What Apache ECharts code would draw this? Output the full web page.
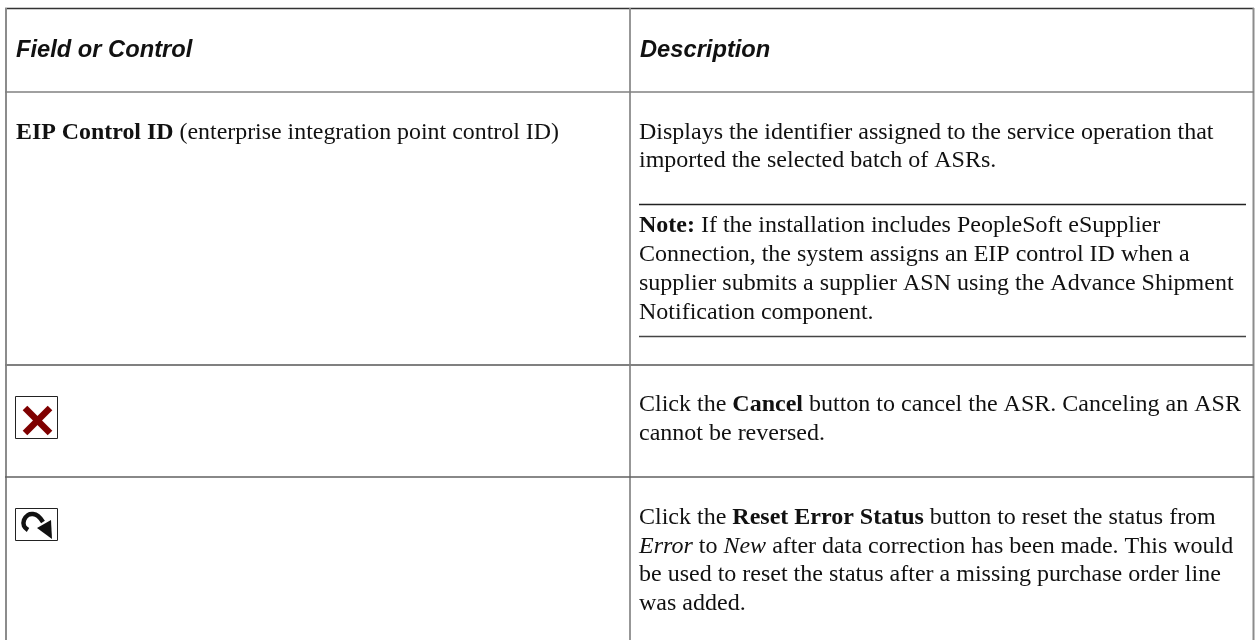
<!DOCTYPE html>
<html><head><meta charset="utf-8">
<style>html,body{margin:0;padding:0;background:#fff}#c{width:1256px;height:640px}</style>
<script src="https://cdn.jsdelivr.net/npm/echarts@6/dist/echarts.min.js"></script></head>
<body><div id="c"></div><script>
const headers = ["Field or Control", "Description"];
const fieldRuns = [["EIP Control ID","b"],[" (enterprise integration point control ID)","r"]];
const descLines = [
 {y:133,runs:[["Displays the identifier assigned to the service operation that","r"]]},
 {y:161,runs:[["imported the selected batch of ASRs.","r"]]},
 {y:226,runs:[["Note:","b"],[" If the installation includes PeopleSoft eSupplier","r"]]},
 {y:255,runs:[["Connection, the system assigns an EIP control ID when a","r"]]},
 {y:284,runs:[["supplier submits a supplier ASN using the Advance Shipment","r"]]},
 {y:313,runs:[["Notification component.","r"]]},
 {y:405,runs:[["Click the ","r"],["Cancel","b"],[" button to cancel the ASR. Canceling an ASR","r"]]},
 {y:434,runs:[["cannot be reversed.","r"]]},
 {y:518,runs:[["Click the ","r"],["Reset Error Status","b"],[" button to reset the status from","r"]]},
 {y:547,runs:[["Error","i"],[" to ","r"],["New","i"],[" after data correction has been made. This would","r"]]},
 {y:575,runs:[["be used to reset the status after a missing purchase order line","r"]]},
 {y:604,runs:[["was added.","r"]]}
];
const FS = 24, FSL = 23.9, FSH = 23.7;
const serif = '"Liberation Serif"';
const cv = document.createElement('canvas').getContext('2d');
function widthOf(t,k,fs){cv.font=(k==='i'?'italic ':'')+(k==='b'?'bold ':'')+fs+'px '+serif;return cv.measureText(t).width;}
function line(x,y,runs,fs){
  let out=[],cx=x;
  runs.forEach(([t,k])=>{
    out.push({type:'text',x:cx,y:y,style:{text:t,verticalAlign:'middle',fontFamily:serif,fontSize:fs,fill:'#111',
      fontWeight:k==='b'?'bold':'normal',fontStyle:k==='i'?'italic':'normal'}});
    cx+=widthOf(t,k,fs);
  });
  return out;
}
const rule=(x1,y1,x2,y2,c,w)=>({type:'line',shape:{x1,y1,x2,y2},style:{stroke:c,lineWidth:w}});
const els=[];
els.push(rule(5,8.5,1254,8.5,'#333',1.4));
els.push(rule(6,8,6,640,'#8c8c8c',2));
els.push(rule(630,8,630,640,'#8c8c8c',1.8));
els.push(rule(1253.5,8,1253.5,640,'#8c8c8c',2));
els.push(rule(5,92,1254,92,'#808080',1.4));
els.push(rule(5,365,1254,365,'#808080',1.8));
els.push(rule(5,477,1254,477,'#606060',1.4));
els.push(rule(639,204.5,1246,204.5,'#222',1.4));
els.push(rule(639,336.5,1246,336.5,'#444',1.6));
els.push({type:'text',x:16,y:50,style:{text:headers[0],verticalAlign:'middle',fontFamily:'"Liberation Sans"',fontSize:FSH,fontWeight:'bold',fontStyle:'italic',fill:'#111'}});
els.push({type:'text',x:640,y:50,style:{text:headers[1],verticalAlign:'middle',fontFamily:'"Liberation Sans"',fontSize:FSH,fontWeight:'bold',fontStyle:'italic',fill:'#111'}});
els.push(...line(16,133,fieldRuns,FSL));
descLines.forEach(d=>els.push(...line(639,d.y,d.runs,FS)));
// cancel icon
els.push({type:'rect',shape:{x:15.5,y:396.5,width:42,height:42},style:{fill:'#fff',stroke:'#222',lineWidth:1}});
els.push(rule(25,408,50,433,'#7f0000',6.5));
els.push(rule(50,408,25,433,'#7f0000',6.5));
// reset icon
els.push({type:'rect',shape:{x:15.5,y:508.5,width:42,height:32},style:{fill:'#fff',stroke:'#222',lineWidth:1}});
els.push({type:'polyline',shape:{smooth:0.4,points:[[28,530],[24,526],[24,520],[28,515],[33,514],[38,516],[43,522]]},style:{fill:'none',stroke:'#111',lineWidth:4.5}});
els.push({type:'polygon',shape:{points:[[37,528],[51,520],[52,539]]},style:{fill:'#111'}});
const chart=echarts.init(document.getElementById('c'),null,{renderer:'canvas'});
chart.setOption({animation:false,backgroundColor:'#fff',graphic:{elements:els}});
</script></body></html>
